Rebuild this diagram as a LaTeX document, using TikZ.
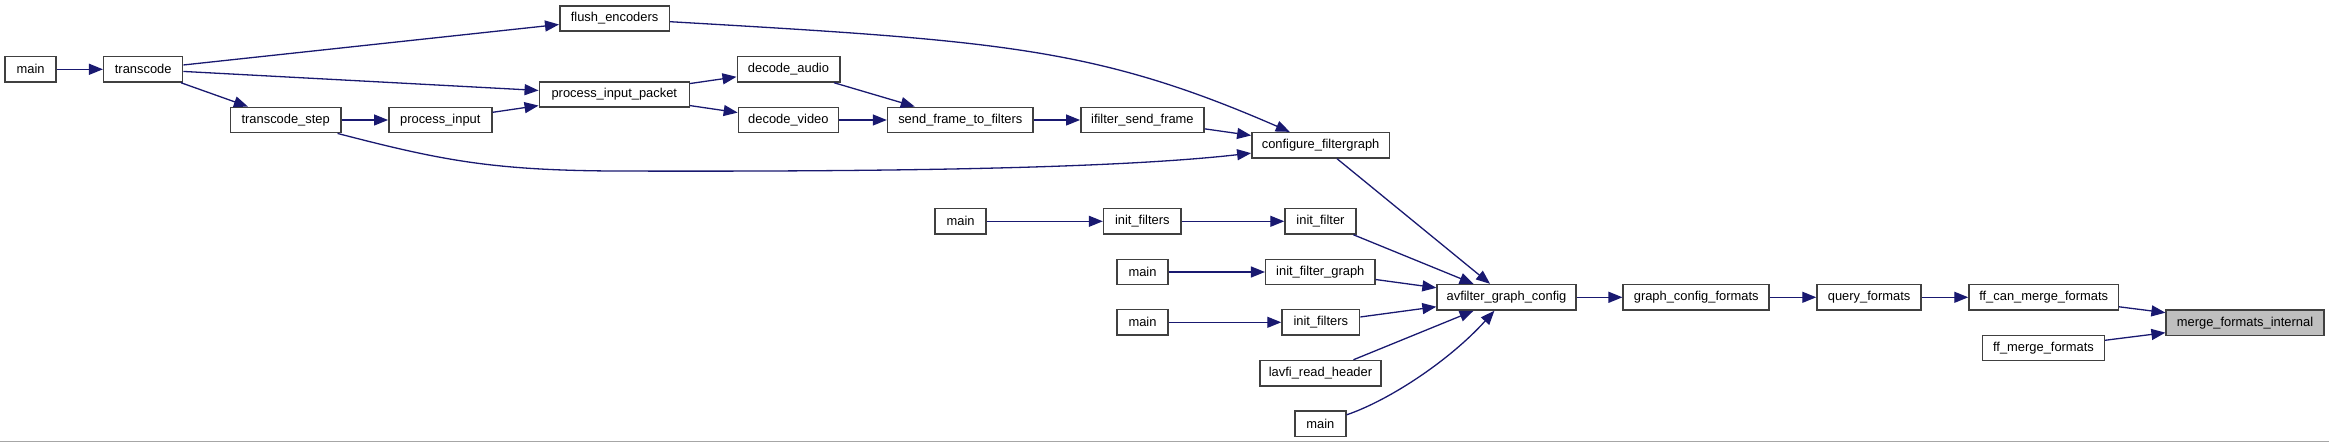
\documentclass[tikz,border=0pt]{standalone}
\usepackage{fontspec}
\setmainfont{Liberation Sans}
\usetikzlibrary{arrows.meta}
\definecolor{edgeblue}{RGB}{25,25,112}
\definecolor{boxline}{RGB}{64,64,64}
\definecolor{hilite}{RGB}{191,191,191}

\begin{document}
\begin{tikzpicture}[x=1pt,y=-1pt,>={Stealth[inset=0pt,length=14pt,width=11pt]},
  fn/.style={draw=boxline,line width=1.5pt,fill=white,minimum height=25.4pt,
    inner sep=0pt,font=\fontsize{12.9}{15}\selectfont},
  call/.style={->,edgeblue,line width=1.3pt}]
  \useasboundingbox (0,0) rectangle (2329,443);
  % upper part: transcode side
  \node[fn,minimum width=51] (mainA) at (30.6,69.3) {main};
  \node[fn,minimum width=79] (transcode) at (143.2,69.3) {transcode};
  \node[fn,minimum width=109.7] (flushenc) at (614.6,18.5) {flush\_encoders};
  \node[fn,minimum width=150] (pinpacket) at (614.3,94.5) {process\_input\_packet};
  \node[fn,minimum width=110.2] (tcstep) at (285.7,120) {transcode\_step};
  \node[fn,minimum width=103] (pinput) at (440.3,120) {process\_input};
  \node[fn,minimum width=102.5] (decaudio) at (788.5,69.3) {decode\_audio};
  \node[fn,minimum width=100] (decvideo) at (788.4,120) {decode\_video};
  \node[fn,minimum width=145.5] (sendframe) at (960.3,120) {send\_frame\_to\_filters};
  \node[fn,minimum width=123.2] (ifsend) at (1142.4,120) {ifilter\_send\_frame};
  \node[fn,minimum width=137.5] (cfgraph) at (1320.6,145.3) {configure\_filtergraph};
  % lower part: other callers
  \node[fn,minimum width=51] (mainB) at (960.6,221.3) {main};
  \node[fn,minimum width=77.5] (initfsA) at (1142.3,221.3) {init\_filters};
  \node[fn,minimum width=71] (initf) at (1320.5,221.3) {init\_filter};
  \node[fn,minimum width=50.6] (mainC) at (1142.5,272) {main};
  \node[fn,minimum width=109.2] (initfg) at (1320.3,272) {init\_filter\_graph};
  \node[fn,minimum width=51] (mainD) at (1142.5,322.3) {main};
  \node[fn,minimum width=77.6] (initfsB) at (1320.8,322.3) {init\_filters};
  \node[fn,minimum width=121] (lavfi) at (1320.5,373.2) {lavfi\_read\_header};
  \node[fn,minimum width=51] (mainE) at (1320.3,423.8) {main};
  \node[fn,minimum width=138.8] (avfcfg) at (1506.5,297.3) {avfilter\_graph\_config};
  \node[fn,minimum width=146] (gcformats) at (1696.2,297.3) {graph\_config\_formats};
  \node[fn,minimum width=104.2] (qformats) at (1869.1,297.3) {query\_formats};
  \node[fn,minimum width=149.4] (canmerge) at (2043.7,297.3) {ff\_can\_merge\_formats};
  \node[fn,minimum width=121.8] (ffmerge) at (2043.5,348) {ff\_merge\_formats};
  \node[fn,minimum width=157.7,fill=hilite] (mfinternal) at (2245,322.7) {merge\_formats\_internal};

  \draw[call] (mainA) -- (transcode);
  \draw[call] (transcode) -- (flushenc);
  \draw[call] (transcode) -- (pinpacket);
  \draw[call] (transcode) -- (tcstep);
  \draw[call] (tcstep) -- (pinput);
  \draw[call] (pinput) -- (pinpacket);
  \draw[call] (pinpacket) -- (decaudio);
  \draw[call] (pinpacket) -- (decvideo);
  \draw[call] (decaudio) -- (sendframe);
  \draw[call] (decvideo) -- (sendframe);
  \draw[call] (sendframe) -- (ifsend);
  \draw[call] (ifsend) -- (cfgraph);
  \draw[call] (flushenc) .. controls (999,40.8) and (1095,47) .. (cfgraph);
  \draw[call] (tcstep) .. controls (440,160) and (490,170) .. (610,171)
    .. controls (900,172) and (1120,168) .. (cfgraph);
  \draw[call] (cfgraph) -- (avfcfg);
  \draw[call] (mainB) -- (initfsA);
  \draw[call] (initfsA) -- (initf);
  \draw[call] (initf) -- (avfcfg);
  \draw[call] (mainC) -- (initfg);
  \draw[call] (initfg) -- (avfcfg);
  \draw[call] (mainD) -- (initfsB);
  \draw[call] (initfsB) -- (avfcfg);
  \draw[call] (lavfi) -- (avfcfg);
  \draw[call] (mainE) .. controls (1390,400) and (1450,360) .. (avfcfg);
  \draw[call] (avfcfg) -- (gcformats);
  \draw[call] (gcformats) -- (qformats);
  \draw[call] (qformats) -- (canmerge);
  \draw[call] (canmerge) -- (mfinternal);
  \draw[call] (ffmerge) -- (mfinternal);

  \draw[gray!70,line width=1.5pt] (0,441.5) -- (2329,441.5);
\end{tikzpicture}
\end{document}
